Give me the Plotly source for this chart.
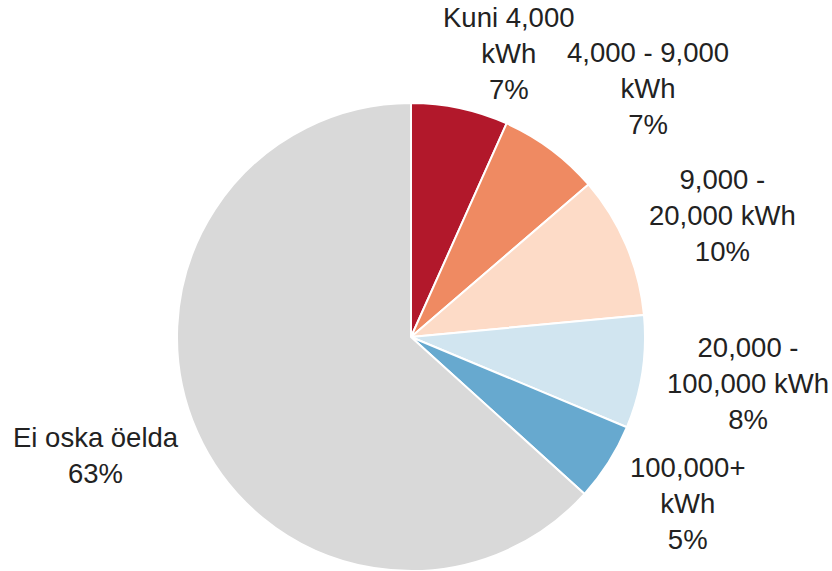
import math
import plotly.graph_objects as go

labels = ["Kuni 4,000<br>kWh", "4,000 - 9,000<br>kWh", "9,000 -<br>20,000 kWh",
          "20,000 -<br>100,000 kWh", "100,000+<br>kWh", "Ei oska öelda"]
values = [6.7, 7.0, 9.8, 7.8, 5.4, 63.3]
colors = ["#B2182B", "#EF8A62", "#FDDBC7", "#D1E5F0", "#67A9CF", "#D9D9D9"]

W, H = 832, 571
CX, CY, R = 411, 337, 234      # pie centre and radius in pixels (layout)
GAP = 23                       # label distance beyond the rim
FS = 27.5                      # label font size
TOL = 8                        # allowed horizontal overlap of neighbouring label boxes

# approximate Arial / Liberation Sans advance widths (em) for layout estimates
CHAR_W = {",": 0.278, " ": 0.278, "-": 0.333, "+": 0.584, "%": 0.889, "K": 0.667,
          "i": 0.222, "l": 0.222, "k": 0.5, "s": 0.5, "W": 0.944, "E": 0.667}


def text_width(line):
    return sum(CHAR_W.get(ch, 0.556) for ch in line) * FS


dom_x = [(CX - R) / W, (CX + R) / W]
dom_y = [max(0, 1 - (CY + R) / H), 1 - (CY - R) / H]

fig = go.Figure(go.Pie(
    labels=labels,
    values=values,
    sort=False,
    direction="clockwise",
    rotation=0,
    marker=dict(colors=colors, line=dict(color="white", width=2)),
    textinfo="none",
    domain=dict(x=dom_x, y=dom_y),
    showlegend=False,
    hoverinfo="label+percent",
))

# labels placed outside each slice, at its mid-angle, kept inside the canvas
total = sum(values)
boxes = []
cum = 0.0
for lab, v in zip(labels, values):
    mid = (cum + v / 2) / total * 2 * math.pi
    cum += v
    s, c = math.sin(mid), math.cos(mid)
    px = CX + (R + GAP) * s
    py = CY - (R + GAP) * c
    pct = round(v / total * 100)
    lines = lab.split("<br>") + [f"{pct}%"]
    w = max(text_width(t) for t in lines)
    h = len(lines) * FS * 1.3
    left = px if s > 0 else px - w
    cy_box = py - c * h / 2
    cy_box = min(max(cy_box, h / 2), H - h / 2)
    boxes.append(dict(text="<br>".join(lines), left=left, w=w, cy=cy_box, h=h, right_side=s > 0))

# push a label sideways when it collides with the next one on the same side
for a, b in zip(boxes[:-1], boxes[1:]):
    if a["right_side"] and b["right_side"]:
        v_overlap = abs(a["cy"] - b["cy"]) < (a["h"] + b["h"]) / 2
        h_overlap = a["left"] + a["w"] - b["left"]
        if v_overlap and h_overlap > TOL:
            a["left"] -= h_overlap - TOL

annotations = []
for bx in boxes:
    annotations.append(dict(
        x=bx["left"] / W, y=1 - bx["cy"] / H, xref="paper", yref="paper",
        text=bx["text"], showarrow=False,
        xanchor="left", yanchor="middle", align="center",
        font=dict(family="Liberation Sans, Arial, sans-serif", size=FS, color="#222222"),
    ))

fig.update_layout(
    width=W, height=H,
    margin=dict(l=0, r=0, t=0, b=0),
    paper_bgcolor="white",
    plot_bgcolor="white",
    showlegend=False,
    annotations=annotations,
)

fig.write_html("out.html", config={"displayModeBar": False},
               post_script="document.body.style.margin='0';")
